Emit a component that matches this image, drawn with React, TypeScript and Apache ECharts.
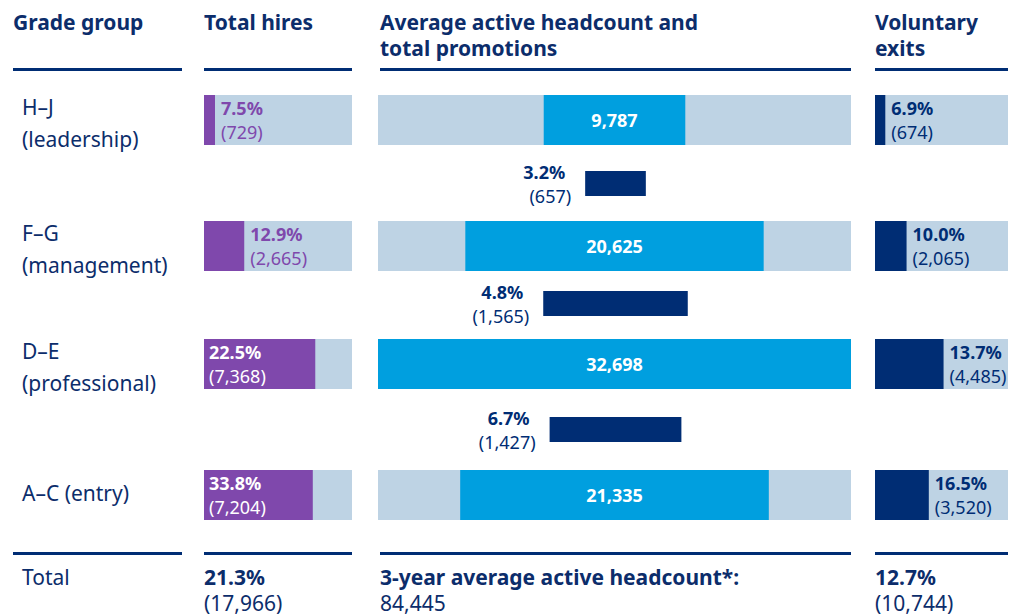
import React, { useEffect, useRef } from "react";
import * as echarts from "echarts";

// ---- data ----
const gradeCodes = ["H–J", "F–G", "D–E", "A–C (entry)"];
const gradeNames = ["(leadership)", "(management)", "(professional)", ""];
const hiresPct = [7.5, 12.9, 22.5, 33.8];
const hiresCount = [729, 2665, 7368, 7204];
const headcount = [9787, 20625, 32698, 21335];
const promoPct = [3.2, 4.8, 6.7];
const promoCount = [657, 1565, 1427];
const exitPct = [6.9, 10.0, 13.7, 16.5];
const exitCount = [674, 2065, 4485, 3520];
const totalHiresPct = 21.3;
const totalHires = 17966;
const avgHeadcount = 84445;
const totalExitPct = 12.7;
const totalExits = 10744;

// ---- style / layout ----
const FONT = '"Noto Sans", "Open Sans", sans-serif';
const TEXT = "#0c2d6b";
const PURPLE = "#7f48ac";
const TRACK = "#bed3e4";
const CYAN = "#009fdf";
const NAVY = "#002d74";

const rowTop = [95, 221, 339, 470];
const rowH = 50;
const promoTop = [171, 291, 417];
const promoH = 25;

const HIRES_MAX = 9800;
const HEAD_MAX = 32698;
const PROMO_MAX = 5100;
const EXIT_MAX = 8700;

const hiresX = { left: 204, width: 148 };
const headX = { left: 378, width: 473 };
const promoX = { left: 380, width: 471 };
const exitX = { left: 875, width: 133 };

const fmt = (n: number) => n.toLocaleString("en-US");
const pct = (n: number) => n.toFixed(1) + "%";

export default function App() {
  const ref = useRef<HTMLDivElement>(null);

  useEffect(() => {
    if (!ref.current) return;
    const chart = echarts.init(ref.current, undefined, { renderer: "svg" });

    const grid: any[] = [];
    const xAxis: any[] = [];
    const yAxis: any[] = [];
    const series: any[] = [];

    const addGrid = (left: number, width: number, top: number, height: number, max: number, cat: string) => {
      const idx = grid.length;
      grid.push({ left, width, top, height, containLabel: false });
      xAxis.push({ type: "value", gridIndex: idx, min: 0, max, show: false });
      yAxis.push({ type: "category", gridIndex: idx, data: [cat], show: false });
      return idx;
    };

    const richLabel = (color: string, size: number, align?: string, padRight = 0) => ({
      p: { fontFamily: FONT, fontWeight: "bold", fontSize: size, color, lineHeight: 24, align, padding: [0, padRight, 0, 0] },
      c: { fontFamily: FONT, fontSize: size, color, lineHeight: 24, align },
    });

    for (let i = 0; i < 4; i++) {
      const cat = gradeCodes[i];
      // hires
      const gh = addGrid(hiresX.left, hiresX.width, rowTop[i], rowH, HIRES_MAX, cat);
      const inside = (hiresCount[i] / HIRES_MAX) * hiresX.width > 70;
      series.push({
        type: "bar",
        xAxisIndex: gh,
        yAxisIndex: gh,
        data: [hiresCount[i]],
        barWidth: "100%",
        showBackground: true,
        backgroundStyle: { color: TRACK },
        itemStyle: { color: PURPLE },
        label: {
          show: true,
          position: inside ? "insideLeft" : "right",
          distance: inside ? 5 : 6,
          formatter: `{p|${pct(hiresPct[i])}}\n{c|(${fmt(hiresCount[i])})}`,
          rich: richLabel(inside ? "#ffffff" : PURPLE, 18),
        },
      });

      // headcount (centered)
      const gc = addGrid(headX.left, headX.width, rowTop[i], rowH, HEAD_MAX, cat);
      series.push({
        type: "bar",
        xAxisIndex: gc,
        yAxisIndex: gc,
        stack: "head" + i,
        data: [(HEAD_MAX - headcount[i]) / 2],
        barWidth: "100%",
        silent: true,
        itemStyle: { color: "rgba(0,0,0,0)" },
      });
      series.push({
        type: "bar",
        xAxisIndex: gc,
        yAxisIndex: gc,
        stack: "head" + i,
        data: [headcount[i]],
        barWidth: "100%",
        showBackground: true,
        backgroundStyle: { color: TRACK },
        itemStyle: { color: CYAN },
        label: {
          show: true,
          position: "inside",
          formatter: fmt(headcount[i]),
          fontFamily: FONT,
          fontWeight: "bold",
          fontSize: 18,
          color: "#ffffff",
        },
      });

      // exits
      const ge = addGrid(exitX.left, exitX.width, rowTop[i], rowH, EXIT_MAX, cat);
      series.push({
        type: "bar",
        xAxisIndex: ge,
        yAxisIndex: ge,
        data: [exitCount[i]],
        barWidth: "100%",
        showBackground: true,
        backgroundStyle: { color: TRACK },
        itemStyle: { color: NAVY },
        label: {
          show: true,
          position: "right",
          distance: 6,
          formatter: `{p|${pct(exitPct[i])}}\n{c|(${fmt(exitCount[i])})}`,
          rich: richLabel(NAVY, 18),
        },
      });
    }

    for (let j = 0; j < 3; j++) {
      const gp = addGrid(promoX.left, promoX.width, promoTop[j], promoH, PROMO_MAX, gradeCodes[j]);
      series.push({
        type: "bar",
        xAxisIndex: gp,
        yAxisIndex: gp,
        stack: "promo" + j,
        data: [(PROMO_MAX - promoCount[j]) / 2],
        barWidth: "100%",
        silent: true,
        itemStyle: { color: "rgba(0,0,0,0)" },
      });
      series.push({
        type: "bar",
        xAxisIndex: gp,
        yAxisIndex: gp,
        stack: "promo" + j,
        data: [promoCount[j]],
        barWidth: "100%",
        itemStyle: { color: NAVY },
        label: {
          show: true,
          position: "left",
          distance: 14,
          formatter: `{p|${pct(promoPct[j])}}\n{c|(${fmt(promoCount[j])})}`,
          rich: richLabel(NAVY, 18, "right", 6),
        },
      });
    }

    const txt = (text: string, x: number, y: number, bold = false, size = 21) => ({
      type: "text",
      x,
      y,
      silent: true,
      style: {
        text,
        fill: TEXT,
        fontFamily: FONT,
        fontSize: size,
        fontWeight: bold ? "bold" : "normal",
        align: "left",
        verticalAlign: "middle",
      },
    });
    const rule = (x: number, w: number, y: number) => ({
      type: "rect",
      silent: true,
      shape: { x, y, width: w, height: 3 },
      style: { fill: NAVY },
    });

    const graphic: any[] = [
      txt("Grade group", 13, 22, true),
      txt("Total hires", 204, 22, true),
      txt("Average active headcount and", 380, 22, true),
      txt("total promotions", 380, 48, true),
      txt("Voluntary", 875, 22, true),
      txt("exits", 875, 48, true),
      rule(13, 169, 68),
      rule(204, 148, 68),
      rule(380, 471, 68),
      rule(875, 133, 68),
      rule(13, 169, 552),
      rule(204, 148, 552),
      rule(380, 471, 552),
      rule(875, 133, 552),
      txt("Total", 22, 577),
      txt(pct(totalHiresPct), 204, 577, true),
      txt(`(${fmt(totalHires)})`, 204, 603),
      txt("3-year average active headcount*:", 380, 577, true),
      txt(fmt(avgHeadcount), 380, 603),
      txt(pct(totalExitPct), 875, 577, true),
      txt(`(${fmt(totalExits)})`, 875, 603),
    ];
    for (let i = 0; i < 4; i++) {
      const c = rowTop[i] + rowH / 2;
      if (gradeNames[i]) {
        graphic.push(txt(gradeCodes[i], 22, c - 13));
        graphic.push(txt(gradeNames[i], 22, c + 19));
      } else {
        graphic.push(txt(gradeCodes[i], 22, c - 2));
      }
    }

    chart.setOption({
      animation: false,
      backgroundColor: "#ffffff",
      grid,
      xAxis,
      yAxis,
      series,
      graphic,
    });

    return () => chart.dispose();
  }, []);

  return (
    <div
      ref={ref}
      style={{ position: "fixed", left: 0, top: 0, width: 1011, height: 616 }}
    />
  );
}
